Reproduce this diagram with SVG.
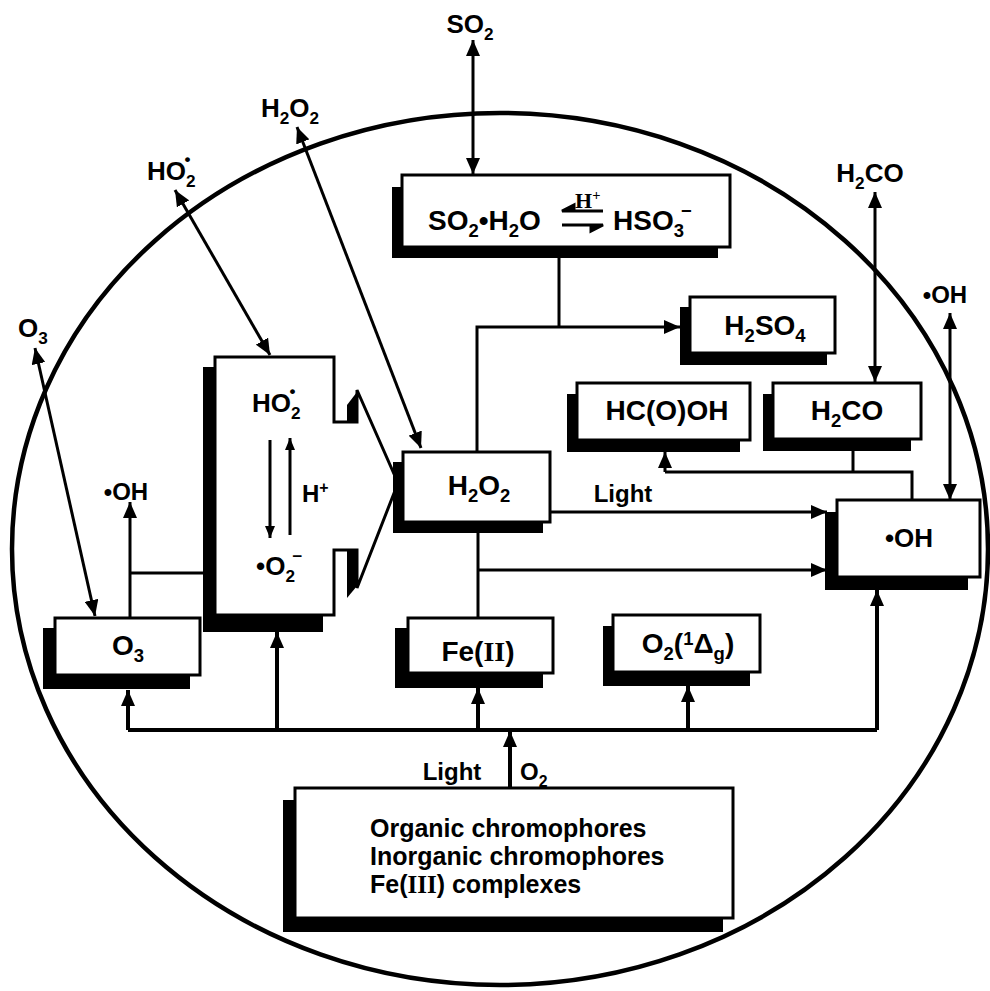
<svg xmlns="http://www.w3.org/2000/svg" width="990" height="991" viewBox="0 0 990 991">
<defs>
<marker id="ah" viewBox="0 0 16 14" refX="16" refY="7" markerWidth="16" markerHeight="14" markerUnits="userSpaceOnUse" orient="auto-start-reverse">
<path d="M0,0 L16,7 L0,14 z" fill="#000"/>
</marker>
<marker id="ahs" viewBox="0 0 12 10" refX="12" refY="5" markerWidth="12" markerHeight="10" markerUnits="userSpaceOnUse" orient="auto-start-reverse">
<path d="M0,0 L12,5 L0,10 z" fill="#000"/>
</marker>
<style>
text{font-family:"Liberation Sans",Arial,sans-serif;font-weight:bold;fill:#000}
.l{font-size:28px}
.m{font-size:26px}
.n{font-size:24px}
.t{font-size:25px}
.s{font-size:0.66em}
.sf{font-family:"Liberation Serif","Times New Roman",serif}
.box{fill:#fff;stroke:#000;stroke-width:3}
.sh{fill:#000}
.c{fill:none;stroke:#000;stroke-width:3}
.b{fill:none;stroke:#000;stroke-width:4}
.a{marker-end:url(#ah)}
.d{marker-start:url(#ah);marker-end:url(#ah)}
</style>
</defs>
<rect width="990" height="991" fill="#fff"/>
<ellipse cx="500" cy="549" rx="488" ry="436" fill="none" stroke="#000" stroke-width="4.5"/>

<g id="connectors">
<line class="c d" x1="473" y1="40" x2="473" y2="174"/>
<polyline class="c" points="559,258 559,327"/>
<polyline class="c a" points="477,452 477,327 680,327"/>
<line class="c d" x1="297" y1="127" x2="421" y2="448"/>
<line class="c d" x1="175" y1="190" x2="270" y2="355"/>
<line class="c d" x1="35" y1="348" x2="95" y2="616"/>
<line class="c a" x1="130" y1="618" x2="130" y2="502"/>
<line class="c" x1="130" y1="573" x2="203" y2="573"/>
<line class="c" x1="478" y1="533" x2="478" y2="618"/>
<line class="c a" x1="478" y1="570" x2="827" y2="570"/>
<line class="c a" x1="550" y1="512" x2="827" y2="512"/>
<line class="c d" x1="875" y1="192" x2="875" y2="382"/>
<line class="c d" x1="950" y1="313" x2="950" y2="500"/>
<polyline class="c" points="853,450 853,472"/>
<polyline class="c" points="665,472 912,472 912,500"/>
<line class="c a" x1="665" y1="472" x2="665" y2="452"/>
<line class="b" x1="128" y1="730" x2="877" y2="730"/>
<line class="b a" x1="128" y1="730" x2="128" y2="690"/>
<line class="b a" x1="277" y1="730" x2="277" y2="632"/>
<line class="b a" x1="478" y1="730" x2="478" y2="688"/>
<line class="b a" x1="688" y1="730" x2="688" y2="686"/>
<line class="b a" x1="877" y1="730" x2="877" y2="590"/>
<line class="b a" x1="510" y1="788" x2="510" y2="731"/>
</g>

<g id="so2-ext"><text class="m" x="470" y="33" text-anchor="middle">SO<tspan class="s" dy="7">2</tspan></text></g>
<g id="h2o2-ext"><text class="m" x="290" y="117" text-anchor="middle">H<tspan class="s" dy="7">2</tspan><tspan dy="-7">O</tspan><tspan class="s" dy="7">2</tspan></text></g>
<g id="ho2-ext"><text class="m" x="147" y="180">HO<tspan class="s" dy="7">2</tspan><tspan class="s" dx="-11" dy="-22">•</tspan></text></g>
<g id="o3-ext"><text class="m" x="33" y="337" text-anchor="middle">O<tspan class="s" dy="7">3</tspan></text></g>
<g id="h2co-ext"><text class="m" x="870" y="182" text-anchor="middle">H<tspan class="s" dy="7">2</tspan><tspan dy="-7">CO</tspan></text></g>
<g id="oh-ext-right"><text class="n" x="945" y="303" text-anchor="middle">•OH</text></g>
<g id="oh-ext-left"><text class="n" x="126" y="500" text-anchor="middle">•OH</text></g>

<g id="so2-box">
<rect class="sh" x="392" y="187" width="326" height="71"/>
<rect class="box" x="402" y="175" width="328" height="72"/>
<text class="l" x="428" y="230">SO<tspan class="s" dy="7">2</tspan><tspan dy="-7">•H</tspan><tspan class="s" dy="7">2</tspan><tspan dy="-7">O</tspan></text>
<path d="M603,211 H562 M562,211 l12,-6 v6 z" stroke="#000" stroke-width="3" fill="#000"/>
<path d="M562,225 H603 M603,225 l-12,6 v-6 z" stroke="#000" stroke-width="3" fill="#000"/>
<text class="sf" x="575" y="208" font-size="22">H<tspan class="s" dy="-8">+</tspan></text>
<text class="l" x="613" y="230">HSO<tspan class="s" dy="7">3</tspan><tspan class="s" dx="-3" dy="-20">−</tspan></text>
</g>

<g id="h2so4-box">
<rect class="sh" x="680" y="307" width="147" height="58"/>
<rect class="box" x="690" y="297" width="145" height="56"/>
<text class="l" x="765" y="335" text-anchor="middle">H<tspan class="s" dy="7">2</tspan><tspan dy="-7">SO</tspan><tspan class="s" dy="7">4</tspan></text>
</g>

<g id="hcooh-box">
<rect class="sh" x="567" y="394" width="173" height="58"/>
<rect class="box" x="577" y="383" width="173" height="57"/>
<text class="l" x="667" y="420" text-anchor="middle">HC(O)OH</text>
</g>

<g id="h2co-box">
<rect class="sh" x="763" y="394" width="148" height="57"/>
<rect class="box" x="773" y="383" width="148" height="56"/>
<text class="l" x="847" y="420" text-anchor="middle">H<tspan class="s" dy="7">2</tspan><tspan dy="-7">CO</tspan></text>
</g>

<g id="ho2-box">
<rect class="sh" x="203" y="367" width="14" height="265"/>
<rect class="sh" x="203" y="612" width="120" height="20"/>
<path d="M215,357 H334 V422 H357 V390 L398,483 L357,588 V550 H334 V615 H215 Z" fill="#fff" stroke="#000" stroke-width="3" stroke-linejoin="miter"/>
<polygon class="sh" points="347,405 357,392 357,422 347,422"/>
<polygon class="sh" points="347,551 357,551 357,586 347,598"/>
<text class="m" x="252" y="412">HO<tspan class="s" dy="7">2</tspan><tspan class="s" dx="-11" dy="-22">•</tspan></text>
<line stroke="#000" stroke-width="3" x1="270" y1="440" x2="270" y2="538" marker-end="url(#ahs)"/>
<line stroke="#000" stroke-width="3" x1="290" y1="535" x2="290" y2="438" marker-end="url(#ahs)"/>
<text class="n" x="302" y="502">H<tspan class="s" dy="-9">+</tspan></text>
<text class="m" x="279" y="575" text-anchor="middle">•O<tspan class="s" dy="7">2</tspan><tspan class="s" dx="-3" dy="-20">−</tspan></text>
</g>

<g id="h2o2-box">
<rect class="sh" x="393" y="462" width="150" height="71"/>
<rect class="box" x="403" y="452" width="147" height="70"/>
<text class="l" x="479" y="495" text-anchor="middle">H<tspan class="s" dy="7">2</tspan><tspan dy="-7">O</tspan><tspan class="s" dy="7">2</tspan></text>
</g>

<g id="light-label"><text class="n" x="623" y="502" text-anchor="middle">Light</text></g>

<g id="oh-box">
<rect class="sh" x="825" y="512" width="143" height="78"/>
<rect class="box" x="837" y="500" width="143" height="77"/>
<text class="m" x="909" y="547" text-anchor="middle">•OH</text>
</g>

<g id="o3-box">
<rect class="sh" x="43" y="628" width="147" height="61"/>
<rect class="box" x="55" y="618" width="145" height="57"/>
<text class="l" x="128" y="655" text-anchor="middle">O<tspan class="s" dy="7">3</tspan></text>
</g>

<g id="fe2-box">
<rect class="sh" x="395" y="628" width="148" height="60"/>
<rect class="box" x="408" y="618" width="145" height="55"/>
<text class="l" x="478" y="661" text-anchor="middle">Fe(<tspan class="sf">II</tspan>)</text>
</g>

<g id="o2-singlet-box">
<rect class="sh" x="603" y="626" width="147" height="60"/>
<rect class="box" x="613" y="615" width="147" height="57"/>
<text class="l" x="688" y="653" text-anchor="middle">O<tspan class="s" dy="7">2</tspan><tspan dy="-7">(</tspan><tspan class="s" dy="-8">1</tspan><tspan dy="8">Δ</tspan><tspan class="s" dy="7">g</tspan><tspan dy="-7">)</tspan></text>
</g>

<g id="source-labels">
<text class="n" x="452" y="780" text-anchor="middle">Light</text>
<text class="n" x="520" y="780">O<tspan class="s" dy="7">2</tspan></text>
</g>

<g id="source-box">
<rect class="sh" x="283" y="800" width="440" height="132"/>
<rect class="box" x="295" y="788" width="438" height="130"/>
<text class="t" x="370" y="837">Organic chromophores</text>
<text class="t" x="370" y="865">Inorganic chromophores</text>
<text class="t" x="370" y="893">Fe(<tspan class="sf">III</tspan>) complexes</text>
</g>
</svg>
